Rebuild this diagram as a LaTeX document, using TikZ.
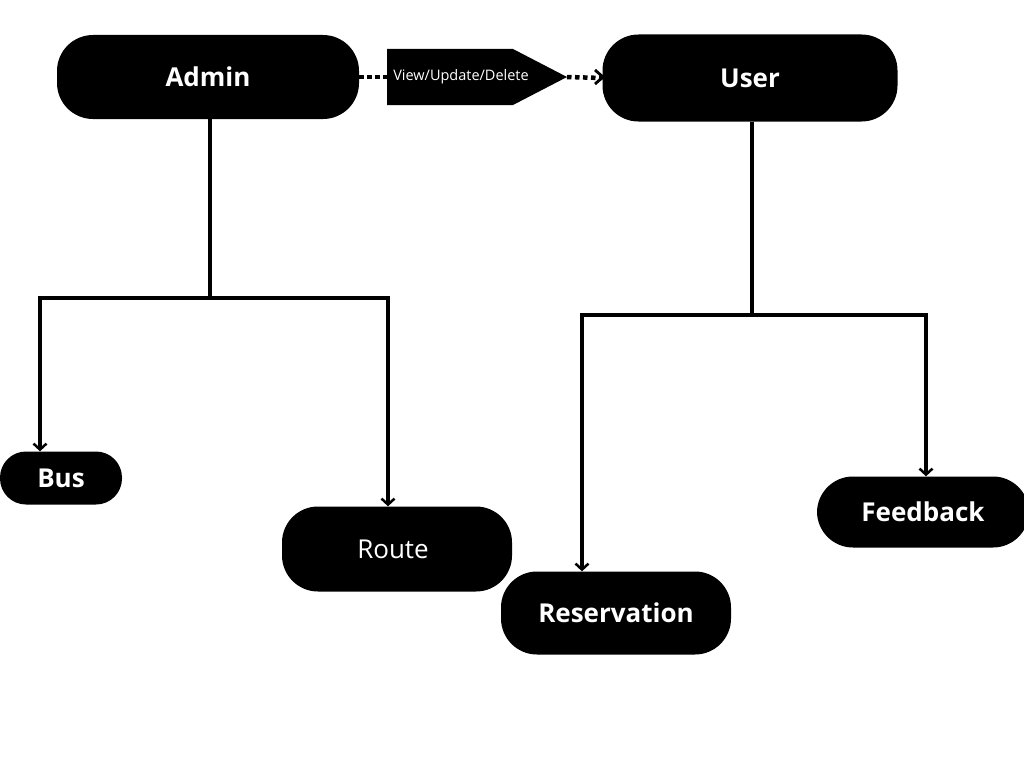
\documentclass[tikz,border=0pt]{standalone}
\usepackage{fontspec}
\setmainfont{Open Sans}
\usetikzlibrary{arrows.meta}
\begin{document}
\begin{tikzpicture}[x=1pt,y=-1pt,
  box/.style={fill=black,text=white,rounded corners=36pt,inner sep=0pt,font=\bfseries\fontsize{26}{30}\selectfont},
  link/.style={line width=3.8pt,-{Straight Barb[length=6pt,width=13pt,line width=2.5pt]}},
  plain/.style={line width=3.8pt},
  dots/.style={line width=4.5pt,dash pattern=on 4.5pt off 3.5pt}]
\useasboundingbox (0,0) rectangle (1024,768);
\node[box,minimum width=302pt,minimum height=84pt] (admin) at (208,77) {Admin};
\node[box,minimum width=295pt,minimum height=87pt] (user) at (750,78) {User};
\node[box,minimum width=122pt,minimum height=53pt,rounded corners=26pt] (bus) at (61,478) {Bus};
\node[box,minimum width=230pt,minimum height=85pt,font=\fontsize{26}{30}\selectfont] (route) at (397,549) {\hspace*{-8pt}Route};
\node[box,minimum width=230pt,minimum height=83pt] (res) at (616,613) {Reservation};
\node[box,minimum width=212pt,minimum height=71pt] (fb) at (923,512) {Feedback};
% tag shape
\fill (387,49) -- (513,49) -- (567,77) -- (513,105) -- (387,105) -- cycle;
\node[text=white,font=\fontsize{14.5}{17}\selectfont] (vud) at (461,77) {View/Update/Delete};
\coordinate (tagL) at (387,77);
\coordinate (tagR) at (567,77);
\draw[dots] (admin.east) -- (tagL);
\draw[dots] (tagR) -- (user.west);
\draw[line width=2.8pt] (595,70) -- (603,77) -- (595,84);
% admin tree
\coordinate (aj) at (210,298);
\draw[plain] (210,119) -- (aj);
\draw[plain] (38.1,298) -- (389.9,298);
\draw[link] (40,298) -- (bus.north -| 40,0);
\draw[link] (388,298) -- (route.north -| 388,0);
% user tree
\coordinate (uj) at (752,315);
\draw[plain] (752,122) -- (uj);
\draw[plain] (580.1,315) -- (927.9,315);
\draw[link] (582,315) -- (res.north -| 582,0);
\draw[link] (926,315) -- (fb.north -| 926,0);
\end{tikzpicture}
\end{document}
